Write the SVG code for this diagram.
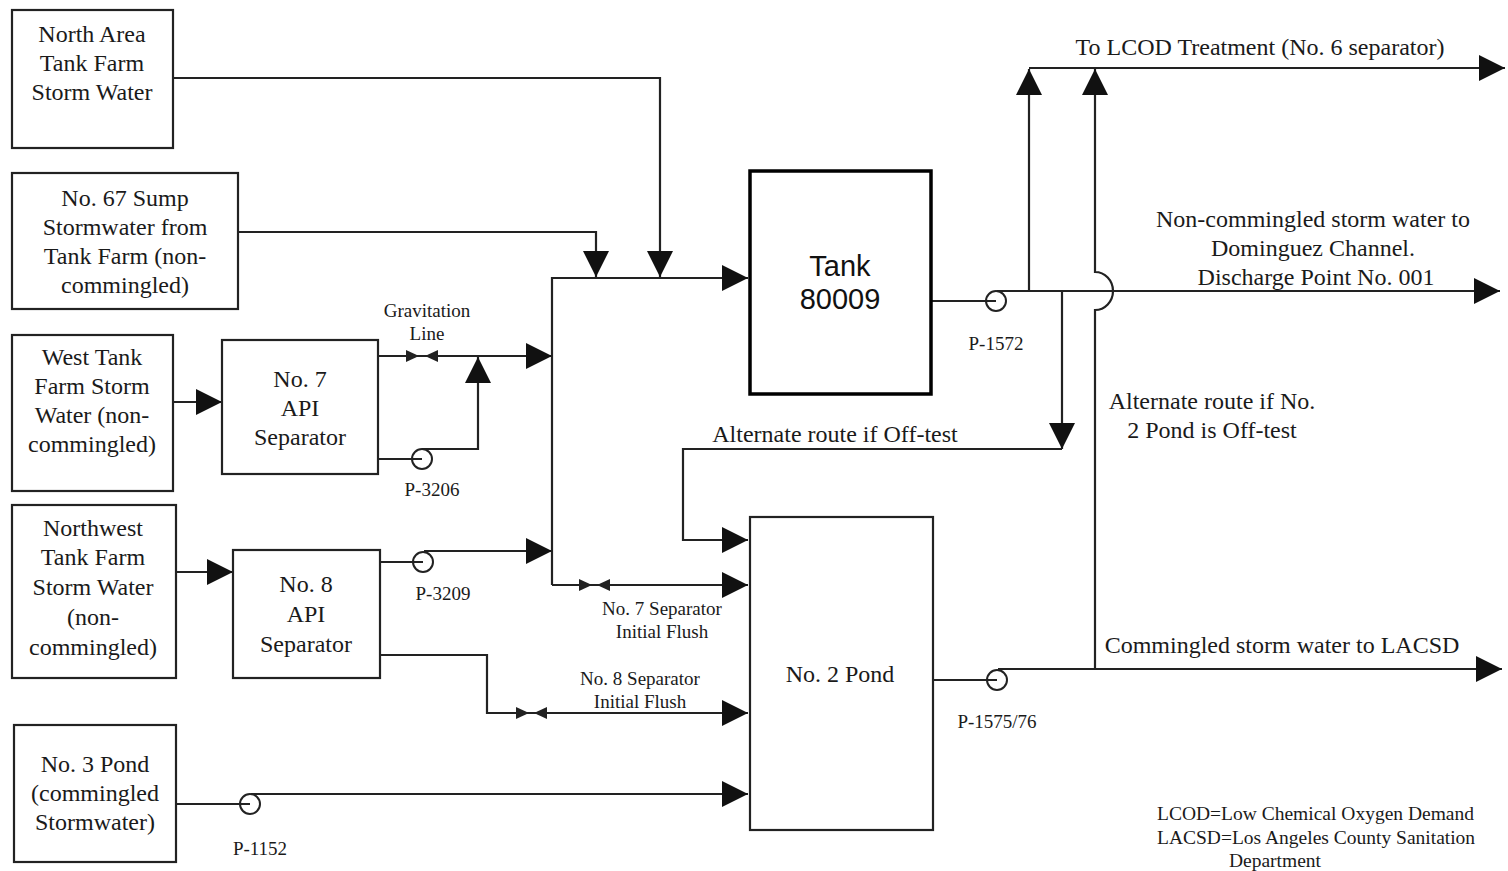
<svg xmlns="http://www.w3.org/2000/svg" width="1508" height="871" viewBox="0 0 1508 871">
<style>
.box{fill:#fff;stroke:#222;stroke-width:2.2}
.tank{fill:#fff;stroke:#000;stroke-width:3.5}
.ln{fill:none;stroke:#222;stroke-width:2.2}
.pump{fill:none;stroke:#222;stroke-width:2}
.v{fill:#222}
text{font-family:"Liberation Serif","Times New Roman",serif;fill:#1a1a1a}
.t24{font-size:24px;text-anchor:middle}
.t19{font-size:19px;text-anchor:middle}
.sans{font-family:"Liberation Sans",Arial,sans-serif;font-size:29px;text-anchor:middle;fill:#111}
</style>
<defs>
<marker id="arr" markerUnits="userSpaceOnUse" markerWidth="26" markerHeight="26" refX="24" refY="12" orient="auto" viewBox="0 0 24 24">
<path d="M0,0 L24,12 L0,24 z" fill="#111"/>
</marker>
</defs>
<rect width="1508" height="871" fill="#fff"/>

<g id="connectors">
<path class="ln" d="M173,78 H660 V277" marker-end="url(#arr)"/>
<path class="ln" d="M238,232 H596 V277" marker-end="url(#arr)"/>
<path class="ln" d="M552,585 V278 H748" marker-end="url(#arr)"/>
<path class="ln" d="M552,585 H748" marker-end="url(#arr)"/>
<polygon class="v" points="579,579 592,585 579,591"/>
<polygon class="v" points="610,579 597,585 610,591"/>
<path class="ln" d="M173,402 H222" marker-end="url(#arr)"/>
<path class="ln" d="M378,356 H552" marker-end="url(#arr)"/>
<polygon class="v" points="406,350 419,356 406,362"/>
<polygon class="v" points="438,350 425,356 438,362"/>
<path class="ln" d="M378,459 H422"/>
<path class="ln" d="M422,449 H478 V357" marker-end="url(#arr)"/>
<circle class="pump" cx="422" cy="459" r="10"/>
<path class="ln" d="M176,572 H233" marker-end="url(#arr)"/>
<path class="ln" d="M380,562 H423"/>
<path class="ln" d="M424,551 H552" marker-end="url(#arr)"/>
<circle class="pump" cx="423" cy="562" r="10"/>
<path class="ln" d="M380,655 H487 V713 H748" marker-end="url(#arr)"/>
<polygon class="v" points="516,707 529,713 516,719"/>
<polygon class="v" points="547,707 534,713 547,719"/>
<path class="ln" d="M176,804 H250"/>
<path class="ln" d="M251,794 H748" marker-end="url(#arr)"/>
<circle class="pump" cx="250" cy="804" r="10"/>
<path class="ln" d="M931,301 H996"/>
<path class="ln" d="M997,291 H1500" marker-end="url(#arr)"/>
<circle class="pump" cx="996" cy="301" r="10"/>
<path class="ln" d="M1029,291 V69" marker-end="url(#arr)"/>
<path class="ln" d="M1029,68 H1505" marker-end="url(#arr)"/>
<path class="ln" d="M1062,291 V449" marker-end="url(#arr)"/>
<path class="ln" d="M1062,449 H683 V540 H748" marker-end="url(#arr)"/>
<path class="ln" d="M933,680 H997"/>
<path class="ln" d="M998,669 H1502" marker-end="url(#arr)"/>
<circle class="pump" cx="997" cy="680" r="10"/>
<path class="ln" d="M1095,669 V310 A18,19 0 0 0 1095,272 V69" marker-end="url(#arr)"/>
</g>

<g id="node-north-area">
<rect class="box" x="12" y="10" width="161" height="138"/>
<text class="t24" x="92" y="42">North Area</text>
<text class="t24" x="92" y="71">Tank Farm</text>
<text class="t24" x="92" y="100">Storm Water</text>
</g>
<g id="node-no67-sump">
<rect class="box" x="12" y="173" width="226" height="136"/>
<text class="t24" x="125" y="206">No. 67 Sump</text>
<text class="t24" x="125" y="235">Stormwater from</text>
<text class="t24" x="125" y="264">Tank Farm (non-</text>
<text class="t24" x="125" y="293">commingled)</text>
</g>
<g id="node-west-tank">
<rect class="box" x="12" y="335" width="161" height="156"/>
<text class="t24" x="92" y="365">West Tank</text>
<text class="t24" x="92" y="394">Farm Storm</text>
<text class="t24" x="92" y="423">Water (non-</text>
<text class="t24" x="92" y="452">commingled)</text>
</g>
<g id="node-no7-api">
<rect class="box" x="222" y="340" width="156" height="134"/>
<text class="t24" x="300" y="387">No. 7</text>
<text class="t24" x="300" y="416">API</text>
<text class="t24" x="300" y="445">Separator</text>
</g>
<g id="node-northwest">
<rect class="box" x="12" y="505" width="164" height="173"/>
<text class="t24" x="93" y="536">Northwest</text>
<text class="t24" x="93" y="565">Tank Farm</text>
<text class="t24" x="93" y="595">Storm Water</text>
<text class="t24" x="93" y="625">(non-</text>
<text class="t24" x="93" y="655">commingled)</text>
</g>
<g id="node-no8-api">
<rect class="box" x="233" y="550" width="147" height="128"/>
<text class="t24" x="306" y="592">No. 8</text>
<text class="t24" x="306" y="622">API</text>
<text class="t24" x="306" y="652">Separator</text>
</g>
<g id="node-no3-pond">
<rect class="box" x="14" y="725" width="162" height="137"/>
<text class="t24" x="95" y="772">No. 3 Pond</text>
<text class="t24" x="95" y="801">(commingled</text>
<text class="t24" x="95" y="830">Stormwater)</text>
</g>
<g id="node-tank-80009">
<rect class="tank" x="750" y="171" width="181" height="223"/>
<text class="sans" x="840" y="276">Tank</text>
<text class="sans" x="840" y="309">80009</text>
</g>
<g id="node-no2-pond">
<rect class="box" x="750" y="517" width="183" height="313"/>
<text class="t24" x="840" y="682">No. 2 Pond</text>
</g>

<g id="labels">
<text class="t19" x="427" y="317">Gravitation</text>
<text class="t19" x="427" y="340">Line</text>
<text class="t19" x="432" y="496">P-3206</text>
<text class="t19" x="443" y="600">P-3209</text>
<text class="t19" x="662" y="615">No. 7 Separator</text>
<text class="t19" x="662" y="638">Initial Flush</text>
<text class="t19" x="640" y="685">No. 8 Separator</text>
<text class="t19" x="640" y="708">Initial Flush</text>
<text class="t19" x="260" y="855">P-1152</text>
<text class="t19" x="996" y="350">P-1572</text>
<text class="t19" x="997" y="728">P-1575/76</text>
<text class="t24" x="835" y="442">Alternate route if Off-test</text>
<text class="t24" x="1260" y="55">To LCOD Treatment (No. 6 separator)</text>
<text class="t24" x="1313" y="227">Non-commingled storm water to</text>
<text class="t24" x="1313" y="256">Dominguez Channel.</text>
<text class="t24" x="1316" y="285">Discharge Point No. 001</text>
<text class="t24" x="1212" y="409">Alternate route if No.</text>
<text class="t24" x="1212" y="438">2 Pond is Off-test</text>
<text class="t24" x="1282" y="653">Commingled storm water to LACSD</text>
<text x="1157" y="820" font-size="19.5">LCOD=Low Chemical Oxygen  Demand</text>
<text x="1157" y="844" font-size="19.5">LACSD=Los Angeles County Sanitation</text>
<text x="1275" y="867" font-size="19.5" text-anchor="middle">Department</text>
</g>
</svg>
